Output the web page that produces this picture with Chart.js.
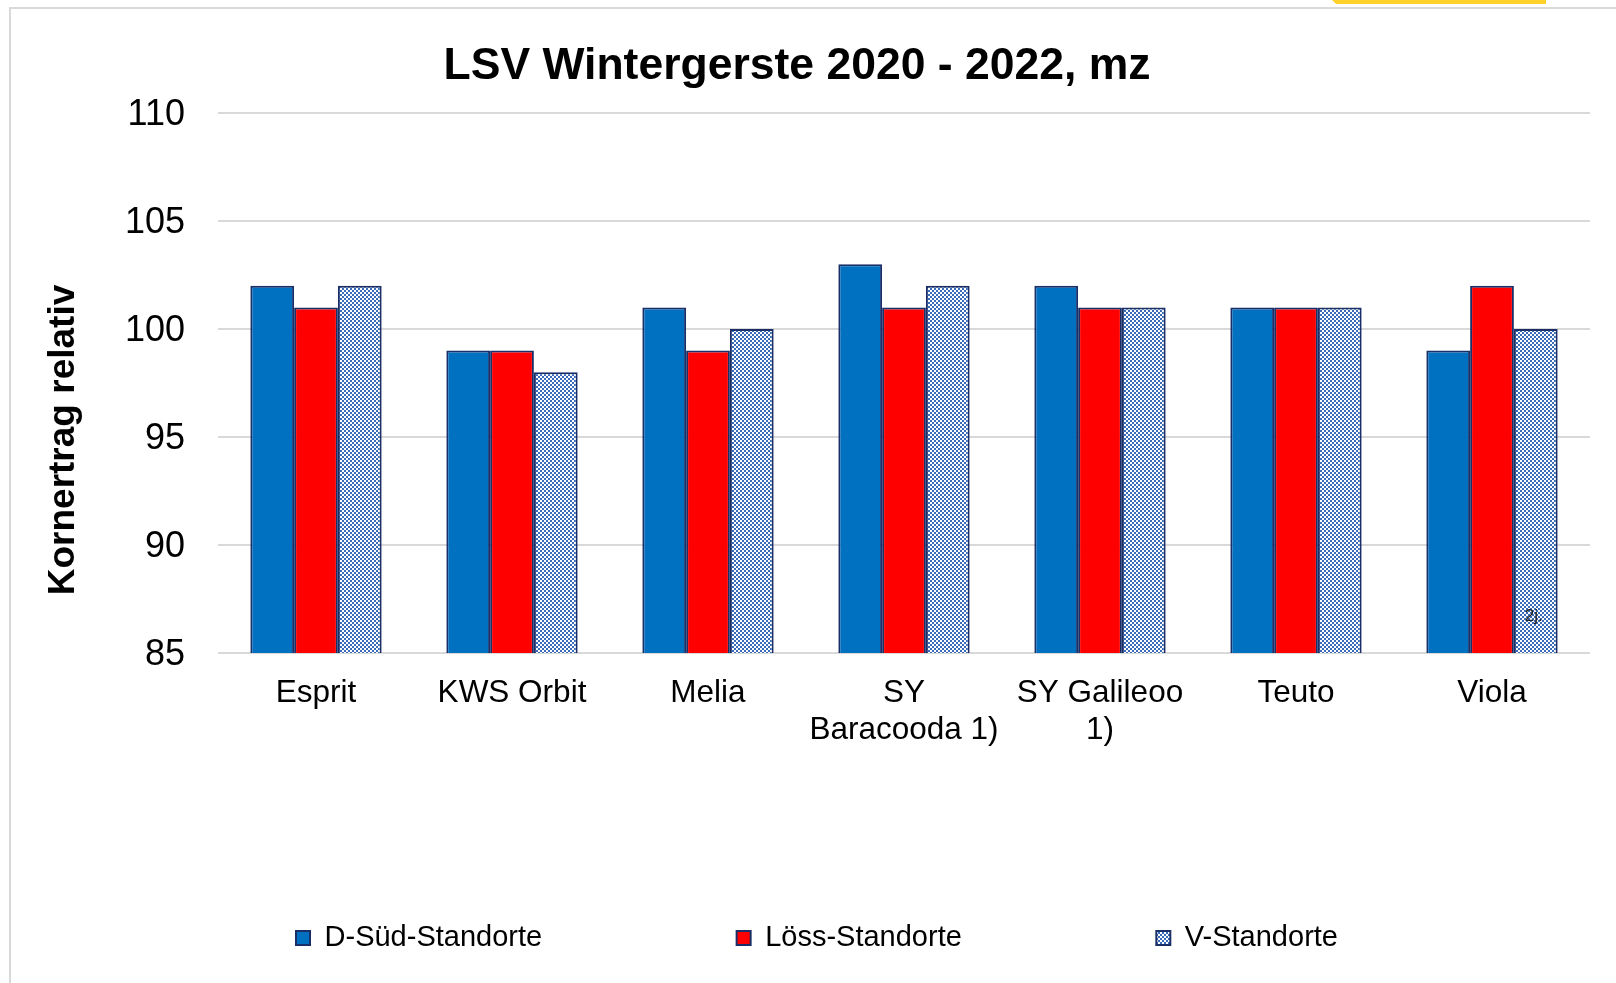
<!DOCTYPE html>
<html>
<head>
<meta charset="utf-8">
<title>LSV Wintergerste 2020 - 2022, mz</title>
<script src="https://cdn.jsdelivr.net/npm/chart.js@4.4.0/dist/chart.umd.min.js"></script>
<style>
  html, body { margin: 0; padding: 0; background: #fff; }
  body { width: 1616px; height: 983px; position: relative; overflow: hidden; }
  .frame { position: absolute; left: 9px; top: 7px; width: 1700px; height: 1100px;
           border-left: 2px solid #d9d9d9; border-top: 2px solid #d9d9d9; }
  .tab { position: absolute; left: 1332px; top: 0; width: 214px; height: 4px; background: #ffd22b;
         clip-path: polygon(0 0, 100% 0, 100% 100%, 2% 100%); }
  #wrap { position: absolute; left: 0; top: 0; width: 1616px; height: 983px; }
</style>
</head>
<body>
<div class="frame"></div>
<div class="tab"></div>
<div id="wrap"><canvas id="chart"></canvas></div>
<script>
// chart data
const chartTitle = 'LSV Wintergerste 2020 - 2022, mz';
const yTitle = 'Kornertrag relativ';
const categories = ['Esprit', 'KWS Orbit', 'Melia', ['SY', 'Baracooda 1)'], ['SY Galileoo', '1)'], 'Teuto', 'Viola'];
const seriesNames = ['D-Süd-Standorte', 'Löss-Standorte', 'V-Standorte'];
const dSued = [102, 99, 101, 103, 102, 101, 99];
const loess = [101, 99, 99, 101, 101, 101, 102];
const vStandorte = [102, 98, 100, 102, 101, 101, 100];
const yTicks = [85, 90, 95, 100, 105, 110];
// small note inside the Viola V-Standorte bar
const noteText = '2j.';
const noteSeries = 2;
const noteIndex = 6;
const noteValue = 86.7;

const fontFamily = '"Liberation Sans", Arial, sans-serif';
const navy = '#1a2f68';

// checkered fill for the V-Standorte bars
function makeChecker() {
    const tile = document.createElement('canvas');
    tile.width = 4;
    tile.height = 4;
    const t = tile.getContext('2d');
    t.fillStyle = '#3a6bb8';
    t.fillRect(0, 0, 4, 4);
    t.fillStyle = '#ffffff';
    t.fillRect(0, 0, 2, 2);
    t.fillRect(2, 2, 2, 2);
    return t.createPattern(tile, 'repeat');
}

// let the two-line category labels draw below the shortened x axis box
const labelRoom = {
    id: 'labelRoom',
    afterLayout(chart) {
        chart.scales.x.bottom = chart.height;
    }
};

// title, rotated axis title and the note
const extraText = {
    id: 'extraText',
    afterDraw(chart) {
        const ctx = chart.ctx;
        ctx.save();
        ctx.fillStyle = '#000';
        ctx.textAlign = 'center';
        ctx.textBaseline = 'middle';
        ctx.font = 'bold 44.5px ' + fontFamily;
        ctx.fillText(chartTitle, 797, 67);

        const bar = chart.getDatasetMeta(noteSeries).data[noteIndex];
        ctx.font = '17px ' + fontFamily;
        ctx.fillStyle = '#222';
        ctx.fillText(noteText, bar.x - 2, chart.scales.y.getPixelForValue(noteValue));

        ctx.translate(64, 440);
        ctx.rotate(-Math.PI / 2);
        ctx.fillStyle = '#000';
        ctx.font = 'bold 37px ' + fontFamily;
        ctx.fillText(yTitle, 0, 0);
        ctx.restore();
    }
};

const ctx = document.getElementById('chart').getContext('2d');
new Chart(ctx, {
    type: 'bar',
    data: {
        labels: categories,
        datasets: [
            { label: seriesNames[0], data: dSued, backgroundColor: '#0070c0' },
            { label: seriesNames[1], data: loess, backgroundColor: '#ff0000' },
            { label: seriesNames[2], data: vStandorte, backgroundColor: makeChecker() }
        ]
    },
    options: {
        responsive: true,
        maintainAspectRatio: false,
        animation: false,
        datasets: {
            bar: {
                categoryPercentage: 0.67,
                barPercentage: 1,
                borderColor: navy,
                borderWidth: 2
            }
        },
        layout: {
            padding: { left: 44, right: 26, top: 113, bottom: 20.5 }
        },
        plugins: {
            title: { display: false },
            tooltip: { enabled: false },
            legend: {
                position: 'bottom',
                labels: {
                    boxWidth: 14,
                    boxHeight: 14,
                    padding: 194.5,
                    color: '#000',
                    font: { family: fontFamily, size: 29 }
                }
            }
        },
        scales: {
            x: {
                grid: { display: false, drawTicks: false },
                border: { display: false },
                ticks: {
                    color: '#000',
                    padding: 22,
                    autoSkip: false,
                    maxRotation: 0,
                    minRotation: 0,
                    font: { family: fontFamily, size: 31.5, lineHeight: 1.18 }
                },
                afterFit: function(scale) {
                    scale.height = 76;
                }
            },
            y: {
                min: yTicks[0],
                max: yTicks[yTicks.length - 1],
                grid: { color: '#d9d9d9', lineWidth: 2, drawTicks: false },
                border: { display: false },
                ticks: {
                    color: '#000',
                    padding: 33,
                    labelOffset: 2,
                    font: { family: fontFamily, size: 36 }
                },
                afterBuildTicks: function(scale) {
                    scale.ticks = yTicks.map(v => ({ value: v }));
                },
                afterFit: function(scale) {
                    scale.width = 174;
                }
            }
        }
    },
    plugins: [labelRoom, extraText]
});
</script>
</body>
</html>
